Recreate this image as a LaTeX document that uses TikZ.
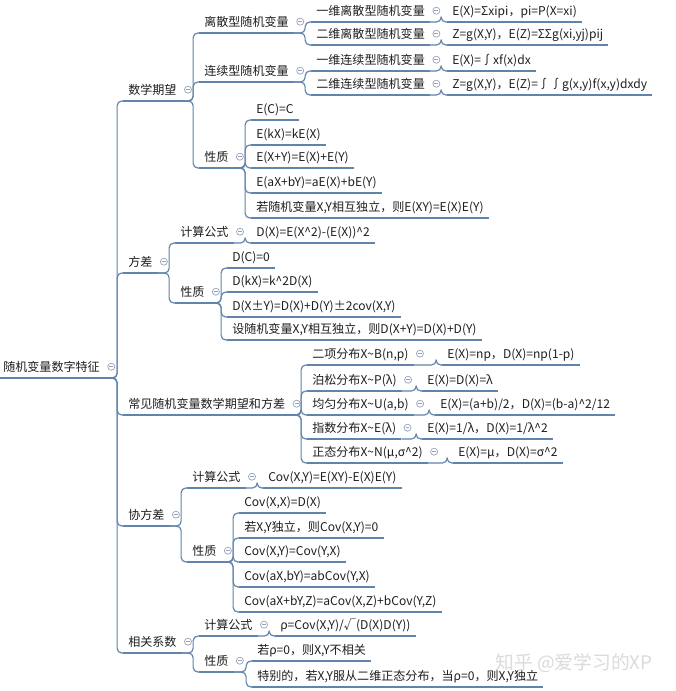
\documentclass[tikz,border=0pt]{standalone}
\usepackage{fontspec}
\setmainfont{Noto Sans CJK SC}
\usetikzlibrary{positioning,calc}
\definecolor{xline}{RGB}{96,132,172}
\definecolor{xtext}{RGB}{30,30,30}
\definecolor{xfold}{RGB}{150,163,186}

\begin{document}
\begin{tikzpicture}[x=0.03cm, y=-0.03cm, font=\fontsize{10.3pt}{12pt}\selectfont, text=xtext]
  % 样式
  \tikzstyle{uline}=[draw=xline, line width=1pt]
  \tikzstyle{topic}=[anchor=south west, inner xsep=4.3pt, inner ysep=5.5pt, text height=7.9pt, text depth=0pt, append after command={\pgfextra{\draw[uline] (\tikzlastnode.south west) -- (\tikzlastnode.south east);}}]
  \tikzstyle{fold}=[circle, draw=xfold, fill=white, line width=0.6pt, inner sep=0pt, minimum size=6pt, path picture={\draw[xfold, line width=0.6pt] ([xshift=-1.6pt]path picture bounding box.center) -- ([xshift=1.6pt]path picture bounding box.center);}]
  \tikzstyle{parent}=[topic, label={[fold, label distance=2pt]east:{}}]
  \tikzstyle{conn}=[draw=xline, line width=1pt, rounded corners=4pt]

  \useasboundingbox[fill=white] (0,0) rectangle (676,691);

  % 中心主题
  \node[parent] (root) at (-2,378) {随机变量数字特征};

  % 数学期望
  \node[parent] (ex) at (123,101) {数学期望};
  \node[parent] (exdis) at (199,33) {离散型随机变量};
  \node[parent] (exdis1) at (311,22) {一维离散型随机变量};
  \node[topic] (exdis1f) at (447,22) {E(X)=Σxipi，pi=P(X=xi)};
  \node[parent] (exdis2) at (311,45) {二维离散型随机变量};
  \node[topic] (exdis2f) at (447,45) {Z=g(X,Y)，E(Z)=ΣΣg(xi,yj)pij};
  \node[parent] (excon) at (199,82) {连续型随机变量};
  \node[parent] (excon1) at (311,71) {一维连续型随机变量};
  \node[topic] (excon1f) at (447,71) {E(X)=∫xf(x)dx};
  \node[parent] (excon2) at (311,95) {二维连续型随机变量};
  \node[topic] (excon2f) at (447,95) {Z=g(X,Y)，E(Z)=∫∫g(x,y)f(x,y)dxdy};
  \node[parent] (exprop) at (199,168) {性质};
  \node[topic] (exp1) at (251,120) {E(C)=C};
  \node[topic] (exp2) at (251,145) {E(kX)=kE(X)};
  \node[topic] (exp3) at (251,168) {E(X+Y)=E(X)+E(Y)};
  \node[topic] (exp4) at (251,193) {E(aX+bY)=aE(X)+bE(Y)};
  \node[topic] (exp5) at (251,218) {若随机变量X,Y相互独立，则E(XY)=E(X)E(Y)};

  % 方差
  \node[parent] (var) at (123,273) {方差};
  \node[parent] (varf) at (175,243) {计算公式};
  \node[topic] (varff) at (251,243) {D(X)=E(X\textasciicircum2)-(E(X))\textasciicircum2};
  \node[parent] (varprop) at (175,303) {性质};
  \node[topic] (vp1) at (227,268) {D(C)=0};
  \node[topic] (vp2) at (227,292) {D(kX)=k\textasciicircum2D(X)};
  \node[topic] (vp3) at (227,317) {D(X±Y)=D(X)+D(Y)±2cov(X,Y)};
  \node[topic] (vp4) at (227,340) {设随机变量X,Y相互独立，则D(X+Y)=D(X)+D(Y)};

  % 常见分布
  \node[parent] (dist) at (123,415) {常见随机变量数学期望和方差};
  \node[parent] (d1) at (307,365) {二项分布X\textasciitilde B(n,p)};
  \node[topic] (d1f) at (442,365) {E(X)=np，D(X)=np(1-p)};
  \node[parent] (d2) at (307,391) {泊松分布X\textasciitilde P(λ)};
  \node[topic] (d2f) at (422,391) {E(X)=D(X)=λ};
  \node[parent] (d3) at (307,415) {均匀分布X\textasciitilde U(a,b)};
  \node[topic] (d3f) at (435,415) {E(X)=(a+b)/2，D(X)=(b-a)\textasciicircum2/12};
  \node[parent] (d4) at (307,439) {指数分布X\textasciitilde E(λ)};
  \node[topic] (d4f) at (422,439) {E(X)=1/λ，D(X)=1/λ\textasciicircum2};
  \node[parent] (d5) at (307,463) {正态分布X\textasciitilde N(μ,σ\textasciicircum2)};
  \node[topic] (d5f) at (453,463) {E(X)=μ，D(X)=σ\textasciicircum2};

  % 协方差
  \node[parent] (cov) at (123,526) {协方差};
  \node[parent] (covf) at (187,488) {计算公式};
  \node[topic] (covff) at (263,488) {Cov(X,Y)=E(XY)-E(X)E(Y)};
  \node[parent] (covprop) at (187,562) {性质};
  \node[topic] (cp1) at (239,513) {Cov(X,X)=D(X)};
  \node[topic] (cp2) at (239,538) {若X,Y独立，则Cov(X,Y)=0};
  \node[topic] (cp3) at (239,562) {Cov(X,Y)=Cov(Y,X)};
  \node[topic] (cp4) at (239,587) {Cov(aX,bY)=abCov(Y,X)};
  \node[topic] (cp5) at (239,612) {Cov(aX+bY,Z)=aCov(X,Z)+bCov(Y,Z)};

  % 相关系数
  \node[parent] (rho) at (123,653) {相关系数};
  \node[parent] (rhof) at (199,636) {计算公式};
  \node[topic] (rhoff) at (275,636) {ρ=Cov(X,Y)/√(D(X)D(Y))};
  \node[parent] (rhoprop) at (199,672) {性质};
  \node[topic] (rp1) at (252,661) {若ρ=0，则X,Y不相关};
  \node[topic] (rp2) at (252,687) {特别的，若X,Y服从二维正态分布，当ρ=0，则X,Y独立};

  % 连线
  \foreach \p/\c in {root/ex, root/var, root/dist, root/cov, root/rho,
      ex/exdis, ex/excon, ex/exprop, exdis/exdis1, exdis/exdis2, exdis1/exdis1f, exdis2/exdis2f,
      excon/excon1, excon/excon2, excon1/excon1f, excon2/excon2f,
      exprop/exp1, exprop/exp2, exprop/exp3, exprop/exp4, exprop/exp5,
      var/varf, var/varprop, varf/varff, varprop/vp1, varprop/vp2, varprop/vp3, varprop/vp4,
      dist/d1, dist/d2, dist/d3, dist/d4, dist/d5, d1/d1f, d2/d2f, d3/d3f, d4/d4f, d5/d5f,
      cov/covf, cov/covprop, covf/covff, covprop/cp1, covprop/cp2, covprop/cp3, covprop/cp4, covprop/cp5,
      rho/rhof, rho/rhoprop, rhof/rhoff, rhoprop/rp1, rhoprop/rp2}
    \draw[conn] (\p.south east) -| ([xshift=-5pt]\c.south west) -- (\c.south west);

  % 水印
  \node[font=\fontsize{16pt}{18pt}\selectfont, text=gray!28] (wm) at (574,663) {知乎 @爱学习的XP};
\end{tikzpicture}
\end{document}
